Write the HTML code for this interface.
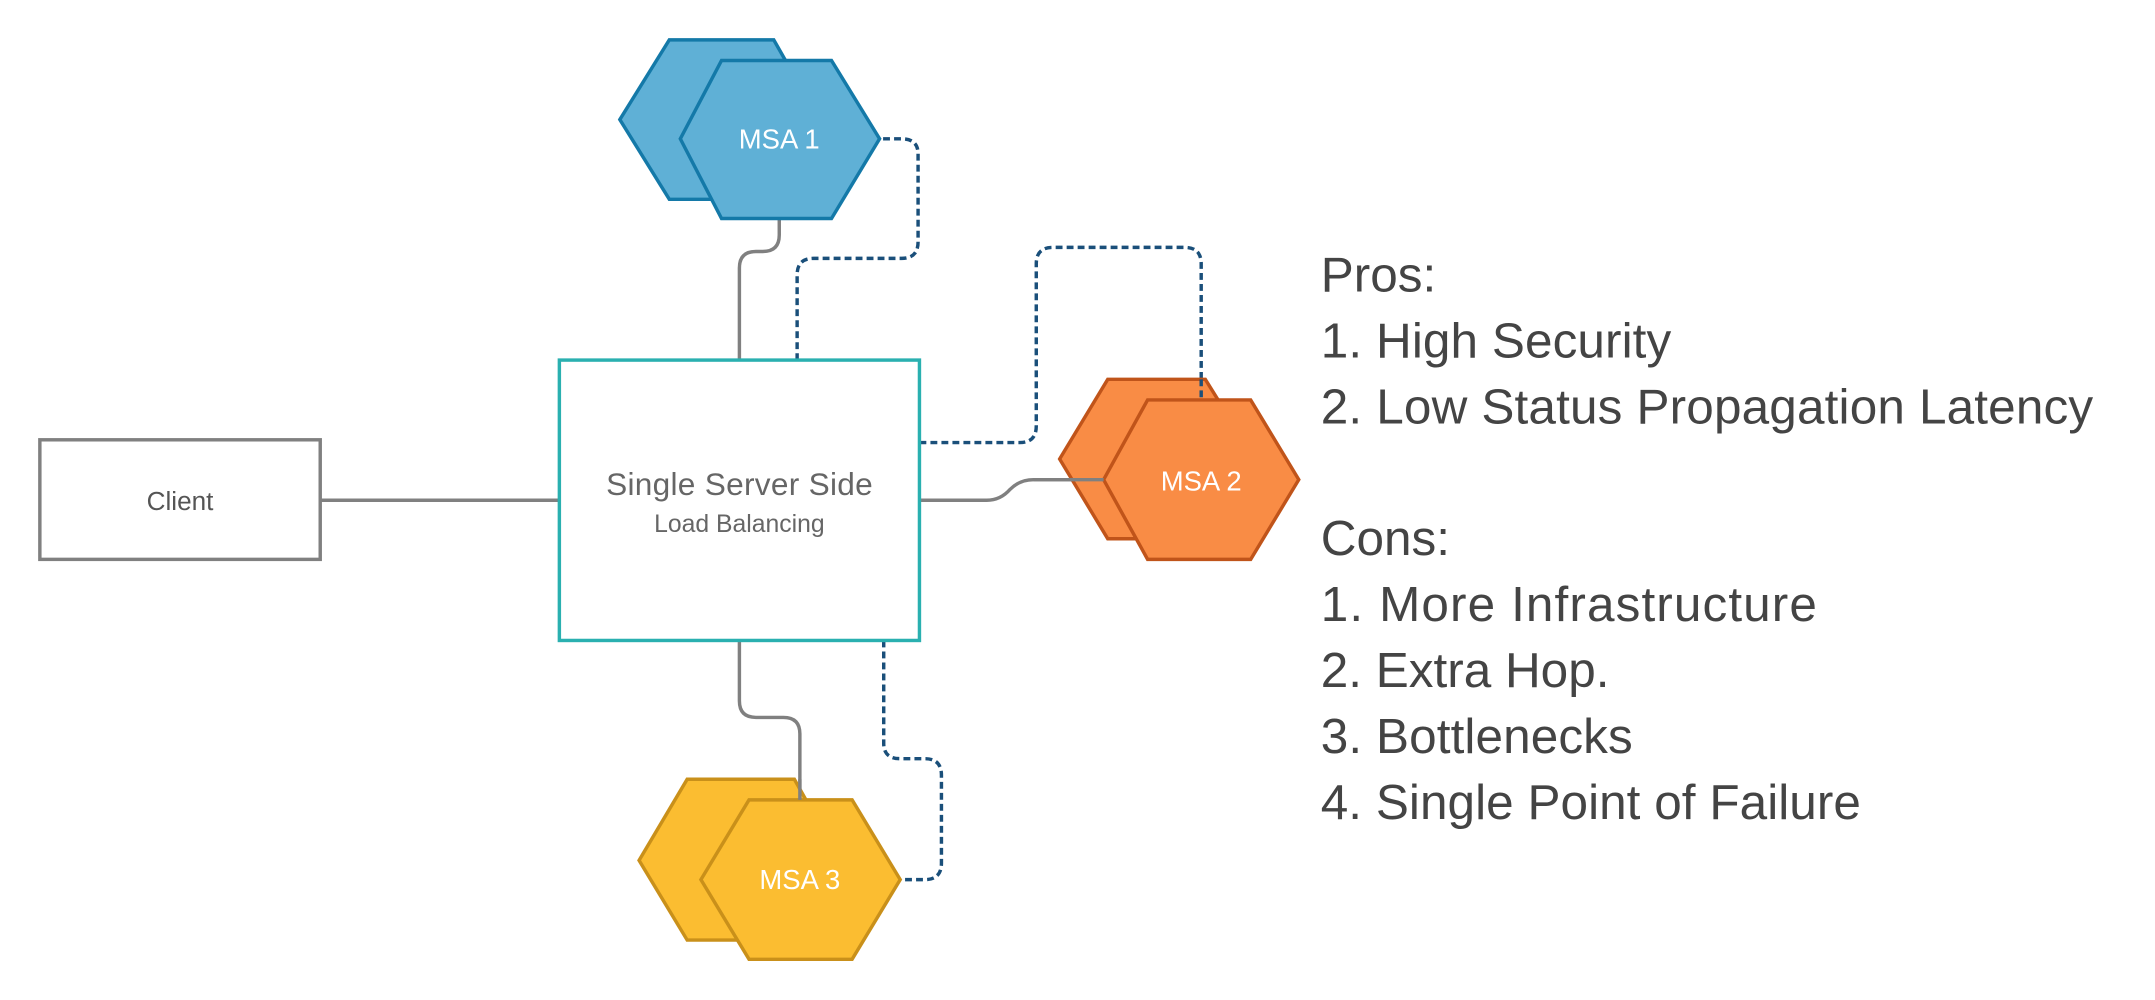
<!DOCTYPE html>
<html><head><meta charset="utf-8"><style>html,body{margin:0;padding:0;background:#fff}svg{display:block}</style></head>
<body>
<svg width="2155" height="1000" viewBox="0 0 1568 727.6" preserveAspectRatio="none" xmlns="http://www.w3.org/2000/svg" font-family="Liberation Sans, DejaVu Sans, sans-serif">
<g fill="none" stroke="#808080" stroke-width="2.5">
<path d="M233,364 H407"/>
<path d="M538,262 V195 Q538,183 550,183 H555 Q567,183 567,171 V159"/>
<path d="M669,364 H718 Q728,364 735,356 Q742,349 752,349 H803"/>
<path d="M538,466 V510 Q538,522 550,522 H570 Q582,522 582,534 V582"/>
</g>
<g fill="none" stroke="#1a4f7a" stroke-width="2.5" stroke-dasharray="5,3">
<path d="M580,262 V200 Q580,188 592,188 H656 Q668,188 668,176 V112 Q668,101 656,101 H640"/>
<path d="M669,322 H742 Q754,322 754,310 V192 Q754,180 766,180 H862 Q874,180 874,192 V291"/>
<path d="M643,466 V541 Q643,552 655,552 H673 Q685,552 685,564 V628 Q685,640 673,640 H655"/>
</g>
<rect x="29" y="320" width="204" height="87" fill="#fff" stroke="#808080" stroke-width="2.5"/>
<text x="131" y="371" font-size="19" fill="#555" text-anchor="middle">Client</text>
<rect x="407" y="262" width="262" height="204" fill="#fff" stroke="#2ab0b0" stroke-width="2.5"/>
<text x="538" y="360" font-size="23" fill="#666" text-anchor="middle" textLength="194">Single Server Side</text>
<text x="538" y="387" font-size="18" fill="#666" text-anchor="middle">Load Balancing</text>
<g fill="#5fb0d6" stroke="#1479a8" stroke-width="2.5">
<polygon points="451,87 487,29 563,29 596,87 561,145 487,145"/>
<polygon points="495,101 525,44 605,44 640,101 605,159 525,159"/>
</g>
<text x="567" y="108" font-size="20" fill="#fff" text-anchor="middle">MSA 1</text>
<g fill="#f98c45" stroke="#c0541a" stroke-width="2.5">
<polygon points="771,334 806,276 877,276 913,334 878,392 806,392"/>
<polygon points="803,349 835,291 910,291 945,349 910,407 835,407"/>
</g>
<path d="M752,349 H803" stroke="#808080" stroke-width="2.5"/>
<path d="M874,276 V291" stroke="#1a4f7a" stroke-width="2.5" stroke-dasharray="5,3"/>
<text x="874" y="357" font-size="20" fill="#fff" text-anchor="middle">MSA 2</text>
<g fill="#fbbd31" stroke="#c9901a" stroke-width="2.5">
<polygon points="465,626 500,567 578,567 611,626 578,684 500,684"/>
<polygon points="510,640 545,582 620,582 655,640 620,698 545,698"/>
</g>
<path d="M582,567 V582" stroke="#808080" stroke-width="2.5"/>
<text x="582" y="647" font-size="20" fill="#fff" text-anchor="middle">MSA 3</text>
<g font-size="36" fill="#444">
<text x="961" y="212">Pros:</text>
<text x="961" y="260" textLength="255">1. High Security</text>
<text x="961" y="308" textLength="562">2. Low Status Propagation Latency</text>
<text x="961" y="404">Cons:</text>
<text x="961" y="452" textLength="361">1. More Infrastructure</text>
<text x="961" y="500">2. Extra Hop.</text>
<text x="961" y="548" textLength="227">3. Bottlenecks</text>
<text x="961" y="596" textLength="393">4. Single Point of Failure</text>
</g>
</svg>
</body></html>
